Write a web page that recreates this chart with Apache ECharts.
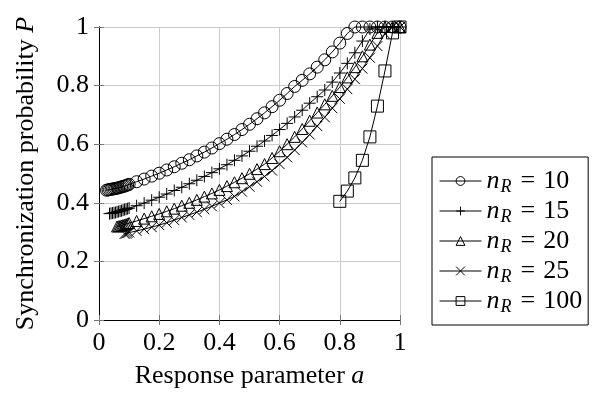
<!DOCTYPE html>
<html>
<head>
<meta charset="utf-8">
<script src="https://cdn.jsdelivr.net/npm/echarts@6/dist/echarts.min.js"></script>
<style>
  html, body { margin: 0; padding: 0; background: #fff; }
  #chart { width: 606px; height: 394px; }
</style>
</head>
<body>
<div id="chart"></div>
<script>
// values
const seriesNames = ['10', '15', '20', '25', '100'];
const xTicks = [0, 0.2, 0.4, 0.6, 0.8, 1];
const aCoarse = [0.125, 0.15, 0.175, 0.2, 0.225, 0.25, 0.275, 0.3, 0.325, 0.35, 0.375, 0.4,
  0.425, 0.45, 0.475, 0.5, 0.525, 0.55, 0.575, 0.6, 0.625, 0.65, 0.675, 0.7, 0.725, 0.75,
  0.775, 0.8, 0.825, 0.85, 0.875, 0.9, 0.925, 0.95, 0.975, 1];

const a10 = [0.025, 0.03, 0.035, 0.04, 0.045, 0.05, 0.055, 0.06, 0.065, 0.07, 0.075, 0.08,
  0.085, 0.09, 0.095, 0.1].concat(aCoarse);
const p10 = [0.443, 0.444, 0.445, 0.446, 0.447, 0.448, 0.449, 0.45, 0.451, 0.453, 0.454, 0.456,
  0.457, 0.459, 0.461, 0.463,
  0.472, 0.481, 0.491, 0.501, 0.512, 0.523, 0.535, 0.547, 0.56, 0.573, 0.587, 0.602,
  0.617, 0.633, 0.65, 0.668, 0.687, 0.707, 0.728, 0.75, 0.773, 0.797, 0.818, 0.84, 0.863, 0.888,
  0.915, 0.945, 0.978, 1, 1, 1, 1, 1, 1, 1];

const a15 = [0.035, 0.04, 0.045, 0.05, 0.055, 0.06, 0.065, 0.07, 0.075, 0.08, 0.085, 0.09,
  0.095, 0.1].concat(aCoarse);
const p15 = [0.363, 0.364, 0.365, 0.366, 0.367, 0.369, 0.37, 0.372, 0.373, 0.375, 0.377, 0.378,
  0.38, 0.382,
  0.39, 0.399, 0.409, 0.419, 0.43, 0.442, 0.453, 0.465, 0.477, 0.49, 0.503, 0.516,
  0.53, 0.545, 0.56, 0.576, 0.593, 0.611, 0.63, 0.65, 0.671, 0.693, 0.716, 0.74, 0.762, 0.785,
  0.812, 0.843, 0.876, 0.912, 0.952, 0.993, 1, 1, 1, 1];

const a20 = [0.06, 0.065, 0.07, 0.075, 0.08, 0.085, 0.09, 0.095, 0.1].concat(aCoarse);
const p20 = [0.319, 0.32, 0.321, 0.322, 0.324, 0.325, 0.327, 0.329, 0.331,
  0.338, 0.346, 0.354, 0.362, 0.371, 0.38, 0.39, 0.4, 0.41, 0.421, 0.432, 0.444,
  0.457, 0.47, 0.484, 0.499, 0.515, 0.532, 0.553, 0.576, 0.6, 0.625, 0.652, 0.68, 0.708, 0.736,
  0.765, 0.795, 0.828, 0.863, 0.9, 0.94, 0.98, 1, 1, 1];

const a25 = [0.085, 0.09, 0.095, 0.1].concat(aCoarse);
const p25 = [0.294, 0.295, 0.297, 0.299,
  0.304, 0.31, 0.317, 0.324, 0.332, 0.341, 0.35, 0.359, 0.368, 0.378, 0.388, 0.399,
  0.41, 0.422, 0.438, 0.455, 0.472, 0.49, 0.51, 0.532, 0.555, 0.58, 0.606, 0.633, 0.662, 0.692,
  0.723, 0.755, 0.788, 0.822, 0.858, 0.895, 0.935, 0.977, 1, 1];

const a100 = [0.8, 0.825, 0.85, 0.875, 0.9, 0.925, 0.95, 0.975, 1];
const p100 = [0.405, 0.44, 0.485, 0.545, 0.625, 0.73, 0.85, 0.98, 1];

const xs = [a10, a15, a20, a25, a100];
const ys = [p10, p15, p20, p25, p100];

const font = '"Liberation Serif", "Times New Roman", serif';
const plusPath = 'path://M0,5L10,5M5,0L5,10';
const crossPath = 'path://M0,0L10,10M10,0L0,10';
const symbols = ['circle', plusPath, 'triangle', crossPath, 'rect'];
const symbolSizes = [12, 12, 11, 10, 12];

const chart = echarts.init(document.getElementById('chart'));

const gridLine = { lineStyle: { color: '#cccccc', width: 1 } };
const blackLine = { show: true, lineStyle: { color: '#000', width: 1 } };
const tick = { show: true, inside: true, length: 5, lineStyle: { color: '#777' } };

function xAxis(pos, labels) {
  return {
    type: 'value', position: pos, min: 0, max: 1, interval: 0.2,
    axisLine: blackLine, axisTick: tick,
    splitLine: { show: labels, ...gridLine },
    axisLabel: { show: labels, color: '#000', fontFamily: font, fontSize: 26, margin: 10,
      formatter: v => xTicks.includes(+v.toFixed(1)) ? String(+v.toFixed(1)) : '' },
    name: labels ? 'Response parameter {a|a}' : '',
    nameLocation: 'middle', nameGap: 43,
    nameTextStyle: { color: '#000', fontFamily: font, fontSize: 26,
      rich: { a: { fontFamily: font, fontSize: 26, fontStyle: 'italic', color: '#000' } } }
  };
}

function yAxis(pos, labels) {
  return {
    type: 'value', position: pos, min: 0, max: 1, interval: 0.2,
    axisLine: blackLine, axisTick: tick,
    splitLine: { show: labels, ...gridLine },
    axisLabel: { show: labels, color: '#000', fontFamily: font, fontSize: 26, margin: 10 },
    name: labels ? 'Synchronization probability {p|P}' : '',
    nameLocation: 'middle', nameGap: 60, nameRotate: 90,
    nameTextStyle: { color: '#000', fontFamily: font, fontSize: 26,
      rich: { p: { fontFamily: font, fontSize: 26, fontStyle: 'italic', color: '#000' } } }
  };
}

chart.setOption({
  animation: false,
  backgroundColor: '#fff',
  grid: { left: 99, right: 206, top: 27, bottom: 67 },
  legend: {
    orient: 'vertical', left: 432, top: 157,
    padding: [9, 6, 9, 7], itemGap: 0,
    itemWidth: 42, itemHeight: 11,
    backgroundColor: '#fff', borderColor: '#000', borderWidth: 1, borderRadius: 0,
    selectedMode: false,
    itemStyle: { color: 'rgba(0,0,0,0)', borderColor: '#000', borderWidth: 1 },
    lineStyle: { color: '#000', width: 1 },
    formatter: n => '{n|n}{r|R}{e|=}{t|' + n + '}',
    textStyle: {
      color: '#000', fontFamily: font, fontSize: 26,
      rich: {
        n: { fontFamily: font, fontSize: 26, fontStyle: 'italic', lineHeight: 30, color: '#000' },
        r: { fontFamily: font, fontSize: 18, fontStyle: 'italic', lineHeight: 18, padding: [12, 0, 0, 1], color: '#000' },
        e: { fontFamily: font, fontSize: 26, lineHeight: 30, padding: [0, 8, 0, 9], color: '#000' },
        t: { fontFamily: font, fontSize: 26, lineHeight: 30, color: '#000' }
      }
    }
  },
  xAxis: [xAxis('bottom', true), xAxis('top', false)],
  yAxis: [yAxis('left', true), yAxis('right', false)],
  series: seriesNames.map((name, i) => ({
    name: name,
    type: 'line',
    data: xs[i].map((a, k) => [a, ys[i][k]]),
    symbol: symbols[i],
    symbolSize: symbolSizes[i],
    showAllSymbol: true,
    clip: false,
    lineStyle: { color: '#000', width: 1 },
    itemStyle: { color: 'rgba(0,0,0,0)', borderColor: '#000', borderWidth: 1 },
    emphasis: { disabled: true }
  }))
});
</script>
</body>
</html>
